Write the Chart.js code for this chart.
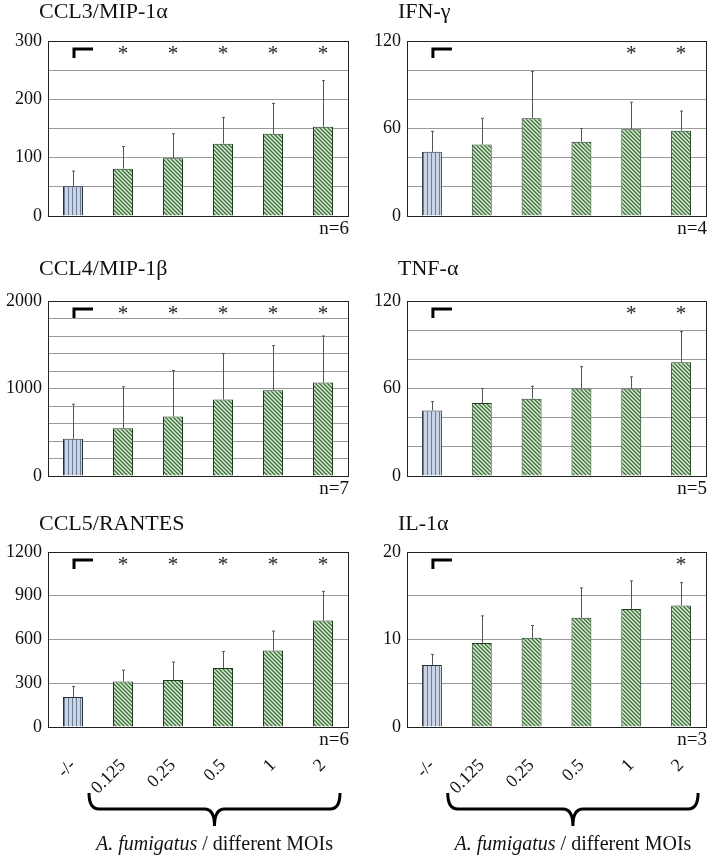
<!DOCTYPE html>
<html>
<head>
<meta charset="utf-8">
<script src="https://cdn.jsdelivr.net/npm/chart.js@4.4.1/dist/chart.umd.min.js"></script>
<style>
  body { margin: 0; background: #fff; }
  #wrap { position: relative; width: 709px; height: 857px; }
  canvas { position: absolute; }
</style>
</head>
<body>
<div id="wrap"></div>
<script>
const categories = ['-/-', '0.125', '0.25', '0.5', '1', '2']

// means and SD (upper error bars only)
const ccl3Mean = [51, 81, 99, 124, 141, 153]
const ccl3Sd = [26, 38, 42, 45, 52, 79]
const ccl3Sig = [0, 1, 1, 1, 1, 1]

const ifngMean = [44, 49, 67, 51, 59.5, 58.5]
const ifngSd = [14, 18, 32, 9, 18.5, 13.5]
const ifngSig = [0, 0, 0, 0, 1, 1]

const ccl4Mean = [425, 545, 680, 875, 980, 1070]
const ccl4Sd = [395, 475, 525, 525, 510, 530]
const ccl4Sig = [0, 1, 1, 1, 1, 1]

const tnfMean = [45, 50, 53, 60, 60, 78]
const tnfSd = [6, 10, 8.5, 15, 8, 21]
const tnfSig = [0, 0, 0, 0, 1, 1]

const ccl5Mean = [205, 312, 322, 405, 525, 730]
const ccl5Sd = [73, 78, 123, 113, 133, 200]
const ccl5Sig = [0, 1, 1, 1, 1, 1]

const il1aMean = [7.1, 9.6, 10.2, 12.5, 13.5, 13.9]
const il1aSd = [1.2, 3.1, 1.4, 3.4, 3.2, 2.6]
const il1aSig = [0, 0, 0, 0, 0, 1]

const SERIF = "'Liberation Serif', 'Times New Roman', serif"

function stripes(kind) {
    const c = document.createElement('canvas')
    c.width = 4; c.height = 4
    const g = c.getContext('2d')
    if (kind === 'blue') {
        g.fillStyle = '#c9d5e6'; g.fillRect(0, 0, 4, 4)
        g.fillStyle = '#6d7c93'; g.fillRect(0, 0, 1, 4)
    } else {
        g.fillStyle = '#d9edd2'; g.fillRect(0, 0, 4, 4)
        g.strokeStyle = '#3d6e3d'; g.lineWidth = 1.3
        g.beginPath()
        g.moveTo(-1, -1); g.lineTo(5, 5)
        g.moveTo(-1, 3); g.lineTo(1, 5)
        g.moveTo(3, -1); g.lineTo(5, 1)
        g.stroke()
    }
    return g.createPattern(c, 'repeat')
}
const bluePat = stripes('blue')
const greenPat = stripes('green')

const extras = {
    id: 'extras',
    afterDatasetsDraw(chart, args, o) {
        const ctx = chart.ctx
        const a = chart.chartArea
        const x = chart.scales.x, y = chart.scales.y
        const meta = chart.getDatasetMeta(0)
        ctx.save()
        // error bars
        ctx.strokeStyle = '#555'
        ctx.lineWidth = 1
        meta.data.forEach((bar, i) => {
            const top = y.getPixelForValue(o.mean[i] + o.sd[i])
            const px = Math.round(bar.x) + 0.5
            ctx.beginPath()
            ctx.moveTo(px, bar.y); ctx.lineTo(px, top)
            ctx.moveTo(px - 1.5, top); ctx.lineTo(px + 1.5, top)
            ctx.stroke()
        })
        // frame
        ctx.strokeStyle = '#222'
        ctx.strokeRect(Math.round(a.left) + 0.5, Math.round(a.top) + 0.5,
            Math.round(a.width), Math.round(a.height))
        // bracket mark over control
        const x0 = x.getPixelForValue(0)
        ctx.strokeStyle = '#000'
        ctx.lineWidth = 3
        ctx.beginPath()
        ctx.moveTo(x0 + 1, a.top + 17)
        ctx.lineTo(x0 + 1, a.top + 8)
        ctx.lineTo(x0 + 20, a.top + 8)
        ctx.stroke()
        // asterisks
        ctx.fillStyle = '#222'
        ctx.font = '21px ' + SERIF
        ctx.textAlign = 'center'
        ctx.textBaseline = 'alphabetic'
        o.sig.forEach((s, i) => {
            if (s) ctx.fillText('*', x.getPixelForValue(i), a.top + 19)
        })
        // title
        ctx.fillStyle = '#111'
        ctx.textAlign = 'left'
        ctx.font = '22px ' + SERIF
        ctx.fillText(o.title, a.left - 9, a.top - o.titleGap)
        // n=
        ctx.textAlign = 'right'
        ctx.font = '19px ' + SERIF
        ctx.fillText(o.n, a.right + 1, a.bottom + 18)
        // brace + caption under the bottom row
        if (o.brace) {
            const l = x.getPixelForValue(1) - 34
            const r = x.getPixelForValue(5) + 17
            const m = (l + r) / 2
            const by = a.bottom + 82
            ctx.lineWidth = 3
            ctx.strokeStyle = '#000'
            ctx.beginPath()
            ctx.moveTo(l, by - 16)
            ctx.quadraticCurveTo(l, by, l + 10, by)
            ctx.lineTo(m - 10, by)
            ctx.quadraticCurveTo(m, by, m, by + 17)
            ctx.moveTo(r, by - 16)
            ctx.quadraticCurveTo(r, by, r - 10, by)
            ctx.lineTo(m + 10, by)
            ctx.quadraticCurveTo(m, by, m, by + 17)
            ctx.stroke()
            const ty = a.bottom + 123
            const part1 = 'A. fumigatus'
            const part2 = ' / different MOIs'
            ctx.font = 'italic 20px ' + SERIF
            const w1 = ctx.measureText(part1).width
            ctx.font = '20px ' + SERIF
            const w2 = ctx.measureText(part2).width
            const sx = m - (w1 + w2) / 2
            ctx.textAlign = 'left'
            ctx.font = 'italic 20px ' + SERIF
            ctx.fillText(part1, sx, ty)
            ctx.font = '20px ' + SERIF
            ctx.fillText(part2, sx + w1, ty)
        }
        ctx.restore()
    }
}

function panel(cfg) {
    const cv = document.createElement('canvas')
    cv.width = cfg.w; cv.height = cfg.h
    cv.style.left = cfg.left + 'px'; cv.style.top = cfg.top + 'px'
    document.getElementById('wrap').appendChild(cv)
    const bottomRow = !!cfg.brace
    new Chart(cv.getContext('2d'), {
        type: 'bar',
        data: {
            labels: categories,
            datasets: [{
                data: cfg.mean,
                backgroundColor: cfg.mean.map((v, i) => i === 0 ? bluePat : greenPat),
                borderColor: cfg.mean.map((v, i) => i === 0 ? '#2b2f38' : '#1e3b1e'),
                borderWidth: 1,
                categoryPercentage: 1,
                barPercentage: 0.4
            }]
        },
        options: {
            responsive: false,
            animation: false,
            layout: { padding: { top: cfg.padTop, right: cfg.padRight, bottom: cfg.padBottom, left: 0 } },
            plugins: {
                legend: { display: false },
                tooltip: { enabled: false },
                extras: {
                    mean: cfg.mean, sd: cfg.sd, sig: cfg.sig, title: cfg.title,
                    n: cfg.n, titleGap: cfg.titleGap, brace: cfg.brace
                }
            },
            scales: {
                x: {
                    grid: { display: false, drawTicks: false },
                    border: { display: false },
                    ticks: {
                        display: bottomRow,
                        autoSkip: false,
                        maxRotation: 45, minRotation: 45,
                        padding: 28,
                        color: '#111',
                        font: { family: SERIF, size: 18 }
                    },
                    afterFit: (s) => {
                        s.height = bottomRow ? 130 : 0
                        s.paddingLeft = 0
                        s.paddingRight = 0
                    }
                },
                y: {
                    min: 0, max: cfg.max,
                    grid: { color: '#9a9a9a', drawTicks: false },
                    border: { display: false },
                    ticks: {
                        stepSize: cfg.step,
                        autoSkip: false,
                        padding: 6,
                        color: '#111',
                        font: { family: SERIF, size: 18 },
                        callback: (v) => (v % cfg.label === 0 ? v : '')
                    },
                    afterFit: (s) => {
                        s.width = cfg.axisW
                        s.paddingTop = 0
                        s.paddingBottom = 0
                    }
                }
            }
        },
        plugins: [extras]
    })
}

const L = { left: 0, w: 355, axisW: 48, padRight: 7 }
const R = { left: 355, w: 354, axisW: 52, padRight: 3 }
const row1 = { top: 0, h: 240, padTop: 41, padBottom: 24, titleGap: 23 }
const row2 = { top: 240, h: 262, padTop: 61, padBottom: 26, titleGap: 26 }
const row3 = { top: 490, h: 367, padTop: 62, padBottom: 0, titleGap: 22 }

panel({ ...L, ...row1, title: 'CCL3/MIP-1α', n: 'n=6', mean: ccl3Mean, sd: ccl3Sd, sig: ccl3Sig, max: 300, step: 50, label: 100 })
panel({ ...R, ...row1, title: 'IFN-γ', n: 'n=4', mean: ifngMean, sd: ifngSd, sig: ifngSig, max: 120, step: 20, label: 60 })
panel({ ...L, ...row2, title: 'CCL4/MIP-1β', n: 'n=7', mean: ccl4Mean, sd: ccl4Sd, sig: ccl4Sig, max: 2000, step: 200, label: 1000 })
panel({ ...R, ...row2, title: 'TNF-α', n: 'n=5', mean: tnfMean, sd: tnfSd, sig: tnfSig, max: 120, step: 20, label: 60 })
panel({ ...L, ...row3, title: 'CCL5/RANTES', n: 'n=6', mean: ccl5Mean, sd: ccl5Sd, sig: ccl5Sig, max: 1200, step: 300, label: 300, brace: true })
panel({ ...R, ...row3, title: 'IL-1α', n: 'n=3', mean: il1aMean, sd: il1aSd, sig: il1aSig, max: 20, step: 5, label: 10, brace: true })
</script>
</body>
</html>
